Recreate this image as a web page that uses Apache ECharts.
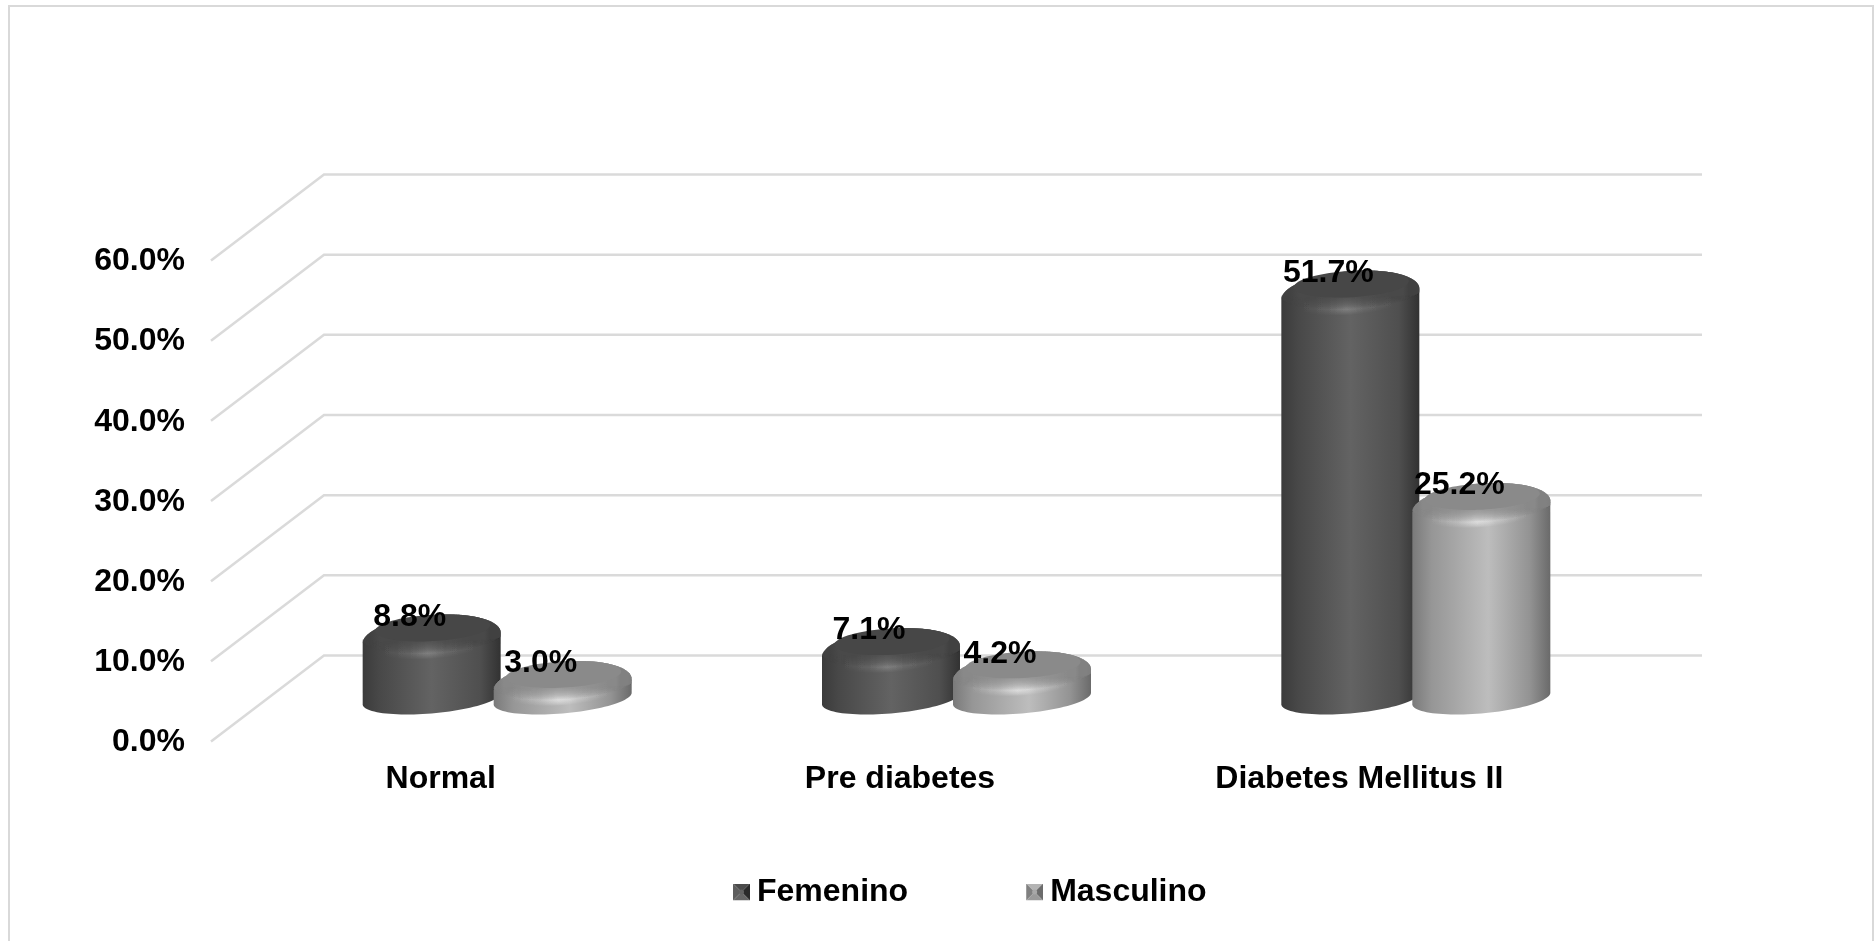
<!DOCTYPE html>
<html>
<head>
<meta charset="utf-8">
<title>Diabetes por sexo</title>
<style>
  html, body { margin: 0; padding: 0; background: #fff; }
  #chart { width: 1874px; height: 941px; }
</style>
<script src="https://cdn.jsdelivr.net/npm/echarts@6/dist/echarts.min.js"></script>
</head>
<body>
<div id="chart"></div>
<script>
// Chart data
const categories = ['Normal', 'Pre diabetes', 'Diabetes Mellitus II'];
const femenino = [8.8, 7.1, 51.7];
const masculino = [3.0, 4.2, 25.2];
const yTicks = [0, 10, 20, 30, 40, 50, 60];

// Oblique projection: how far the back wall sits from the front plane
const DEPTH_X = 113;
const DEPTH_Y = 86;

// Cylinder outline, in pixels
const HALF_WIDTH = 69;
const BAR_OFFSET = 65.5;
const BASE_DROP = 16;
const BASE_SKEW = 25;
const DOME_UP = 23.5;
const DOME_SKEW = 16;
const DOME_CENTER_SHIFT = 10;

const FONT = '"Liberation Sans", Arial, sans-serif';

const femeninoLook = {
  body: [[0, '#3b3b3b'], [0.12, '#484848'], [0.5, '#636363'], [0.85, '#4f4f4f'], [1, '#323232']],
  top: '#474747',
  glowStep: 0.035
};
const masculinoLook = {
  body: [[0, '#7a7a7a'], [0.14, '#969696'], [0.55, '#bdbdbd'], [0.85, '#939393'], [1, '#6a6a6a']],
  top: '#8a8a8a',
  glowStep: 0.12
};

// Sheared half ellipse, running from t0 through half a turn
function arc(cx, cy, a, skew, by, t0, steps) {
  const pts = [];
  for (let i = 0; i <= steps; i++) {
    const t = t0 + Math.PI * i / steps;
    pts.push([cx + a * Math.cos(t) - skew * Math.sin(t), cy + by * Math.sin(t)]);
  }
  return pts;
}

function domePoints(cx, cy, halfW, skew, up, down) {
  const a = Math.sqrt(halfW * halfW - skew * skew);
  const t0 = Math.atan2(-skew, a);
  const upper = arc(cx, cy, a, skew, up, t0 + Math.PI, 40);
  const lower = arc(cx, cy, a, skew, down, t0, 40);
  return upper.concat(lower);
}

function hGrad(stops) {
  return {
    type: 'linear', x: 0, y: 0, x2: 1, y2: 0,
    colorStops: stops.map(s => ({ offset: s[0], color: s[1] }))
  };
}

function poly(points, fill, opacity) {
  return {
    type: 'polygon', silent: true,
    shape: { points: points },
    style: { fill: fill, opacity: opacity === undefined ? 1 : opacity, stroke: null }
  };
}

// One cylinder plus its value label
function cylinderRenderer(sign, look) {
  return function (params, api) {
    const cat = api.value(0);
    const val = api.value(1);
    const top = api.coord([cat, val]);
    const zero = api.coord([cat, 0]);
    const cx = top[0] + DEPTH_X / 2 + sign * BAR_OFFSET;
    const baseY = zero[1] - DEPTH_Y / 2;
    const planeY = top[1] - DEPTH_Y / 2;
    const yc = planeY + DOME_CENTER_SHIFT;

    const aBase = Math.sqrt(HALF_WIDTH * HALF_WIDTH - BASE_SKEW * BASE_SKEW);
    const aDome = Math.sqrt(HALF_WIDTH * HALF_WIDTH - DOME_SKEW * DOME_SKEW);
    const tDome = Math.atan2(-DOME_SKEW, aDome);
    const tBase = Math.atan2(-BASE_SKEW, aBase);

    const outline = arc(cx, yc, aDome, DOME_SKEW, DOME_UP, tDome + Math.PI, 48)
      .concat(arc(cx, baseY, aBase, BASE_SKEW, BASE_DROP, tBase, 48));

    const children = [poly(outline, hGrad(look.body))];

    // Soft highlight along the rounded rim
    const glow = hGrad([[0.12, 'rgba(255,255,255,0)'], [0.34, 'rgba(255,255,255,0.4)'],
      [0.47, 'rgba(255,255,255,1)'], [0.6, 'rgba(255,255,255,0.4)'], [0.85, 'rgba(255,255,255,0)']]);
    for (let d = 21; d >= 16; d--) {
      children.push(poly(domePoints(cx, yc, HALF_WIDTH, DOME_SKEW, DOME_UP, d), glow, look.glowStep));
    }
    // Bevel darkens toward the flat cap
    for (let d = 15; d >= 4; d--) {
      children.push(poly(domePoints(cx, yc, HALF_WIDTH, DOME_SKEW, DOME_UP, d), look.top, 0.11));
    }
    // Flat cap
    children.push(poly(domePoints(cx + 1, yc - 10, 57.5, 13, 13.5, 13.5), look.top));

    children.push({
      type: 'text', silent: true, z2: 100,
      style: {
        x: cx - 22, y: planeY - 11,
        text: val.toFixed(1) + '%',
        fill: '#000', align: 'center', verticalAlign: 'middle',
        font: 'bold 32px ' + FONT
      }
    });
    return { type: 'group', children: children };
  };
}

// Side wall and back wall rule for one axis tick
function wallRenderer(params, api) {
  const front = api.coord([0, api.value(1)]);
  const sys = params.coordSys;
  return {
    type: 'polyline', silent: true,
    shape: {
      points: [
        [sys.x, front[1]],
        [sys.x + DEPTH_X, front[1] - DEPTH_Y],
        [sys.x + sys.width + DEPTH_X, front[1] - DEPTH_Y]
      ]
    },
    style: { stroke: '#dadada', lineWidth: 2.5, fill: null }
  };
}

// Legend swatch: a small bevelled square
function swatch(topC, leftC, rightC, bottomC, centre) {
  const svg = '<svg xmlns="http://www.w3.org/2000/svg" width="17" height="17" viewBox="0 0 17 17">' +
    '<polygon points="0,0 17,0 8.5,8.5" fill="' + topC + '"/>' +
    '<polygon points="0,0 0,17 8.5,8.5" fill="' + leftC + '"/>' +
    '<polygon points="17,0 17,17 8.5,8.5" fill="' + rightC + '"/>' +
    '<polygon points="0,17 17,17 8.5,8.5" fill="' + bottomC + '"/>' +
    '<circle cx="8.5" cy="8.5" r="2.5" fill="' + centre + '"/></svg>';
  return 'image://data:image/svg+xml;charset=utf-8,' + encodeURIComponent(svg);
}

const chart = echarts.init(document.getElementById('chart'), null, { renderer: 'canvas' });

chart.setOption({
  animation: false,
  backgroundColor: '#ffffff',
  textStyle: { fontFamily: FONT },
  graphic: [{
    type: 'rect', silent: true, z: -10,
    shape: { x: 9, y: 6, width: 1864, height: 960 },
    style: { fill: null, stroke: '#d9d9d9', lineWidth: 2 }
  }],
  grid: { left: 211, right: 285, top: 260.5, bottom: 199.5 },
  legend: {
    left: 733, top: 876, padding: 0,
    itemWidth: 17, itemHeight: 17, itemGap: 118,
    selectedMode: false,
    textStyle: { fontFamily: FONT, fontWeight: 'bold', fontSize: 32, color: '#000', padding: [0, 0, 0, 2] },
    data: [
      { name: 'Femenino', icon: swatch('#4b4b4b', '#5e5e5e', '#2a2a2a', '#666666', '#626262') },
      { name: 'Masculino', icon: swatch('#b4b4b4', '#808080', '#6c6c6c', '#9a9a9a', '#a8a8a8') }
    ]
  },
  xAxis: {
    type: 'category',
    data: categories,
    axisLine: { show: false },
    axisTick: { show: false },
    axisLabel: { margin: 22, color: '#000', fontFamily: FONT, fontWeight: 'bold', fontSize: 32, interval: 0 }
  },
  yAxis: {
    type: 'value',
    min: 0, max: 60, interval: 10,
    axisLine: { show: false },
    axisTick: { show: false },
    splitLine: { show: false },
    axisLabel: {
      margin: 26, color: '#000', fontFamily: FONT, fontWeight: 'bold', fontSize: 32,
      verticalAlign: 'top', lineHeight: 2,
      formatter: v => v.toFixed(1) + '%'
    }
  },
  series: [
    {
      type: 'custom', name: 'Pared', z: 1, silent: true,
      renderItem: wallRenderer,
      encode: { x: 0, y: 1 },
      data: yTicks.map(v => [0, v])
    },
    {
      type: 'custom', name: 'Femenino', z: 3, silent: true,
      itemStyle: { color: '#555555' },
      renderItem: cylinderRenderer(-1, femeninoLook),
      encode: { x: 0, y: 1 },
      data: femenino.map((v, i) => [i, v])
    },
    {
      type: 'custom', name: 'Masculino', z: 3, silent: true,
      itemStyle: { color: '#999999' },
      renderItem: cylinderRenderer(1, masculinoLook),
      encode: { x: 0, y: 1 },
      data: masculino.map((v, i) => [i, v])
    }
  ]
});
</script>
</body>
</html>
